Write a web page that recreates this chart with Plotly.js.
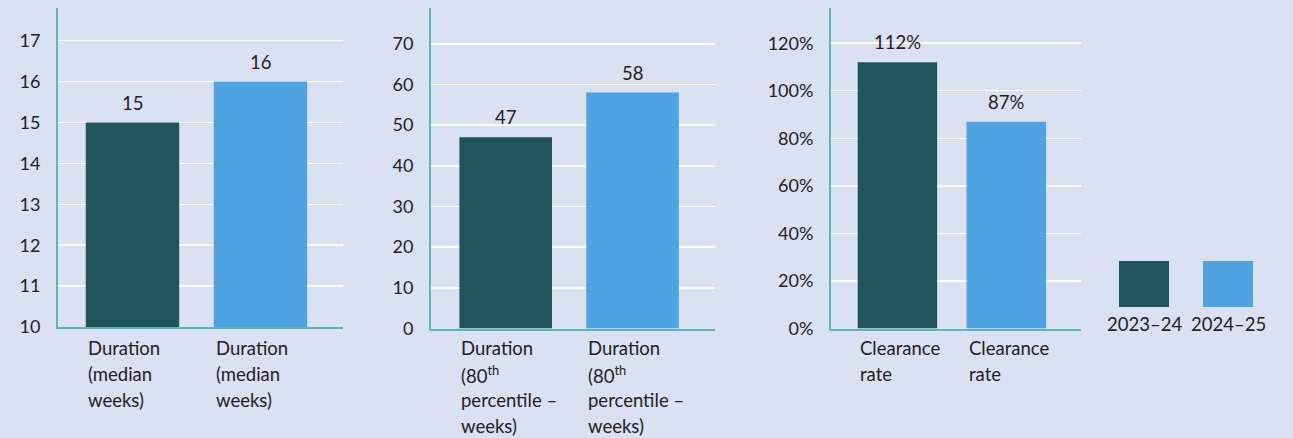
<!DOCTYPE html>
<html>
<head>
<meta charset="utf-8">
<script src="https://cdn.plot.ly/plotly-3.0.1.min.js"></script>
<style>
  html, body { margin: 0; padding: 0; background: #d9e1f2; }
  #chart { width: 1293px; height: 438px; }
</style>
</head>
<body>
<div id="chart"></div>
<script>
// Series names and colours
const years = ['2023–24', '2024–25'];
const yearColors = ['#20535a', '#4fa3e0'];

// Panel 1: median duration in weeks
const medianLabels = ['Duration<br>(median<br>weeks)', 'Duration<br>(median<br>weeks)'];
const medianWeeks = [15, 16];
const medianTicks = [10, 11, 12, 13, 14, 15, 16, 17];

// Panel 2: 80th percentile duration in weeks
const p80Labels = ['Duration<br>(80<sup>th</sup><br>percentile –<br>weeks)', 'Duration<br>(80<sup>th</sup><br>percentile –<br>weeks)'];
const p80Weeks = [47, 58];
const p80Ticks = [0, 10, 20, 30, 40, 50, 60, 70];

// Panel 3: clearance rate (%)
const clearLabels = ['Clearance<br>rate', 'Clearance<br>rate'];
const clearRate = [112, 87];
const clearTicks = [0, 20, 40, 60, 80, 100, 120];

const W = 1293, H = 438;
const FONT = 'Lato, "Open Sans", sans-serif';
const TEXT = '#222222';
const AXIS = '#5cb8b8';
const BG = '#d9e1f2';
const BAR_W = 0.73;
const LABEL_SIZE = 18.5;
const TICK_SIZE = 18;

const panels = [
  { labels: medianLabels, values: medianWeeks, ticks: medianTicks, suffix: '',
    xpx: [58, 343], ypx: [327, 8], xr: [-0.582, 1.645], yr: [10, 17.8] },
  { labels: p80Labels, values: p80Weeks, ticks: p80Ticks, suffix: '',
    xpx: [431, 715], ypx: [328.5, 8], xr: [-0.589, 1.650], yr: [0, 78.8] },
  { labels: clearLabels, values: clearRate, ticks: clearTicks, suffix: '%',
    xpx: [831, 1081], ypx: [328.5, 8], xr: [-0.610, 1.686], yr: [0, 134.8] }
];

const data = [];
const layout = {
  width: W, height: H,
  margin: { l: 0, r: 0, t: 0, b: 0 },
  paper_bgcolor: BG, plot_bgcolor: BG,
  showlegend: false,
  font: { family: FONT, size: LABEL_SIZE, color: TEXT },
  annotations: [], shapes: []
};

panels.forEach((p, k) => {
  const n = k === 0 ? '' : String(k + 1);
  const xa = 'xaxis' + n, ya = 'yaxis' + n;
  const xref = 'x' + n, yref = 'y' + n;
  const idx = p.values.map((_, i) => i);
  const floor = p.yr[0];

  // bars on a non-zero axis start at its floor
  data.push({
    type: 'bar', x: idx, y: p.values.map(v => v - floor), base: floor,
    width: BAR_W,
    marker: { color: yearColors.slice(0, p.values.length), line: { width: 0 } },
    xaxis: xref, yaxis: yref, hoverinfo: 'skip'
  });

  layout[xa] = {
    domain: [p.xpx[0] / W, p.xpx[1] / W],
    range: p.xr, showticklabels: false, showgrid: false, zeroline: false,
    showline: true, linecolor: AXIS, linewidth: 2, fixedrange: true,
    anchor: yref
  };
  layout[ya] = {
    domain: [(H - p.ypx[0]) / H, (H - p.ypx[1]) / H],
    range: p.yr, tickvals: p.ticks, ticktext: p.ticks.map(t => t + p.suffix),
    showgrid: true, gridcolor: '#ffffff', gridwidth: 1.5, zeroline: false,
    showline: true, linecolor: AXIS, linewidth: 2,
    ticks: 'outside', ticklen: 12, tickcolor: 'rgba(0,0,0,0)',
    tickfont: { family: FONT, size: TICK_SIZE, color: TEXT },
    fixedrange: true, anchor: xref
  };

  // value labels above each bar
  p.values.forEach((v, i) => {
    layout.annotations.push({
      x: i, y: v, xref: xref, yref: yref, text: v + p.suffix,
      showarrow: false, xanchor: 'center', yanchor: 'middle', yshift: 20,
      font: { family: FONT, size: LABEL_SIZE, color: TEXT }
    });
  });

  // category labels, left-aligned with each bar, one line at a time
  p.labels.forEach((lab, i) => {
    lab.split('<br>').forEach((line, j) => {
      layout.annotations.push({
        x: i - BAR_W / 2, xref: xref, xanchor: 'left',
        y: (H - 348 - 26 * j) / H, yref: 'paper', yanchor: 'middle',
        text: line, showarrow: false, align: 'left',
        font: { family: FONT, size: LABEL_SIZE, color: TEXT }
      });
    });
  });
});

// legend: colour swatches with the year beneath
const legendX = [1119, 1203];
years.forEach((yr, i) => {
  layout.shapes.push({
    type: 'rect', xref: 'paper', yref: 'paper',
    x0: legendX[i] / W, x1: (legendX[i] + 50) / W,
    y0: (H - 307) / H, y1: (H - 261) / H,
    fillcolor: yearColors[i], line: { width: 0 }
  });
  layout.annotations.push({
    x: (legendX[i] + 25) / W, y: (H - 324) / H, xref: 'paper', yref: 'paper',
    xanchor: 'center', yanchor: 'middle', text: yr, showarrow: false,
    font: { family: FONT, size: LABEL_SIZE, color: TEXT }
  });
});

Plotly.newPlot('chart', data, layout, { displayModeBar: false, staticPlot: true });
</script>
</body>
</html>
